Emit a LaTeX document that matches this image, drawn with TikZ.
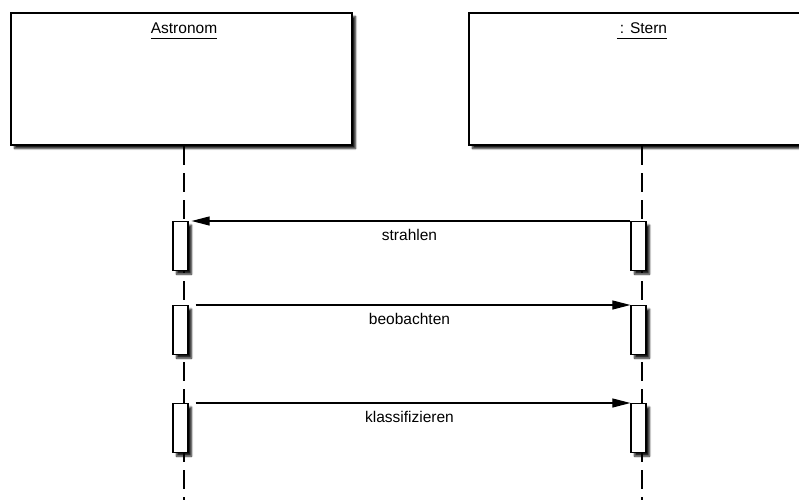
\documentclass[tikz,border=0pt]{standalone}
\usepackage{fontspec}
\setmainfont{Liberation Sans}
\usetikzlibrary{arrows.meta, shadows.blur, positioning, calc}
\tikzset{
  ombra/.style={blur shadow={shadow xshift=3.5pt, shadow yshift=-3.5pt, shadow blur radius=1.8pt, shadow blur steps=6, shadow opacity=90}},
  oggetto/.style={draw, line width=1.4pt, fill=white, minimum width=341pt, minimum height=132pt, inner sep=0pt, ombra},
  titolo/.style={anchor=base, inner sep=0pt},
  attivo/.style={draw, line width=1.2pt, fill=white, minimum width=15pt, minimum height=49pt, inner sep=0pt, anchor=north, ombra},
  vita/.style={line width=1.2pt, dash pattern=on 19pt off 8pt},
  msg/.style={line width=1.1pt, -{Triangle[length=18pt, width=9pt]}},
  etichetta/.style={midway, below=8pt, inner sep=0pt}
}
\begin{document}
\begin{tikzpicture}[x=1pt, y=-1pt, font=\fontsize{15.5}{18}\selectfont]
    % Parametri
    \pgfmathsetmacro{\xa}{184}
    \pgfmathsetmacro{\xs}{642}
    \useasboundingbox (0,0) rectangle (799,500);
    % Oggetti
    \node[oggetto] (astronom) at (181.5,79) {};
    \node[oggetto] (stern) at (639.5,79) {};
    \node[titolo] (astronomT) at (\xa,34) {\underline{Astronom\rule[-3pt]{0pt}{0pt}}};
    \node[titolo] (sternT) at (\xs,34) {\underline{\hspace{3pt}: Stern\rule[-3pt]{0pt}{0pt}}};
    % Linee di vita
    \coordinate (astronomFine) at (\xa,500);
    \coordinate (sternFine) at (\xs,500);
    \draw[vita] (\xa,146) -- (astronomFine);
    \draw[vita] (\xs,146) -- (sternFine);
    % Attivazioni
    \foreach \n/\y in {1/221, 2/305, 3/403} {
        \node[attivo] (a\n) at (\xa-3.5,\y) {};
        \node[attivo] (s\n) at (\xs-3.5,\y) {};
    }
    % Messaggi
    \draw[msg, shorten >=3pt] (s1.north west) -- (a1.north east) node[etichetta]{strahlen};
    \draw[msg, shorten <=7pt] (a2.north east) -- (s2.north west) node[etichetta]{beobachten};
    \draw[msg, shorten <=7pt] (a3.north east) -- (s3.north west) node[etichetta]{klassifizieren};
\end{tikzpicture}
\end{document}
